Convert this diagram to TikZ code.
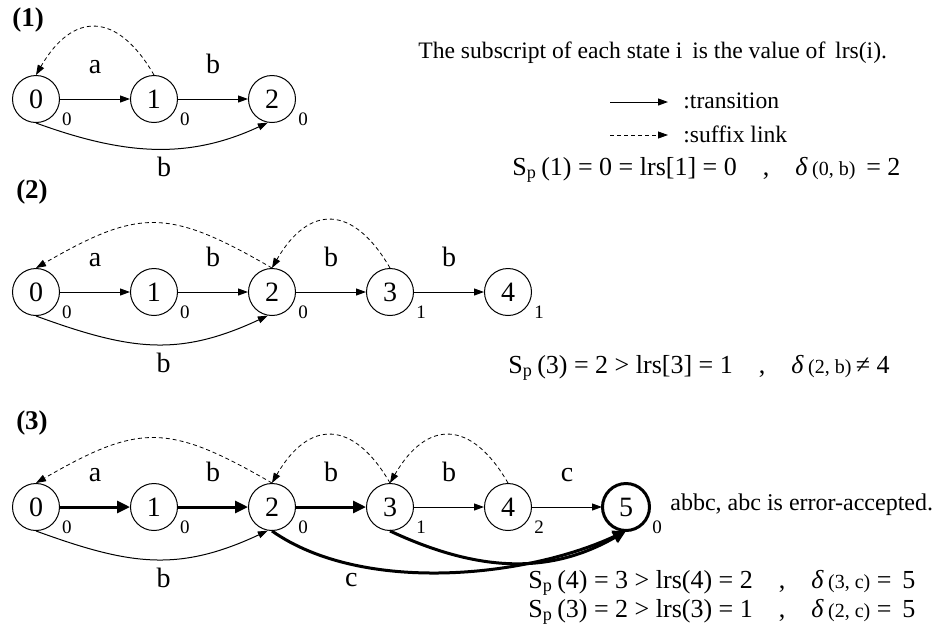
\documentclass[tikz,border=0pt]{standalone}
\usepackage{fontspec}
\setmainfont{Liberation Serif}
\usetikzlibrary{arrows.meta}

\newcommand{\Sp}{S\textsubscript{p}\,}
\newcommand{\dlt}[1]{\textit{δ}\,{\fontsize{10}{12}\selectfont(#1)}}

\tikzset{
  state/.style={circle, draw, line width=0.5pt, minimum size=23.5pt, inner sep=0pt,
    font=\fontsize{14}{16}\selectfont},
  sub/.style={inner sep=0pt, font=\fontsize{9.5}{11}\selectfont},
  trans/.style={line width=0.5pt, -{Triangle[length=5pt,width=3.5pt]}},
  hot/.style={line width=1.5pt, -{Triangle[length=6.5pt,width=6pt]}},
  link/.style={line width=0.4pt, dash pattern=on 2pt off 1.5pt,
    -{Triangle[length=5pt,width=3.5pt]}},
  elab/.style={anchor=base, yshift=13pt, inner sep=0pt, font=\fontsize{14}{16}\selectfont},
  blab/.style={below=4pt, inner sep=0pt, font=\fontsize{14}{16}\selectfont},
  txt/.style={anchor=base west, inner sep=0pt, font=\fontsize{11.8}{14}\selectfont},
  fml/.style={anchor=base west, inner sep=0pt, font=\fontsize{13}{16}\selectfont},
  tag/.style={inner sep=0pt, font=\bfseries\fontsize{13.5}{16}\selectfont}
}

\begin{document}
\begin{tikzpicture}[x=0.5pt, y=-0.5pt]
  \useasboundingbox (0,0) rectangle (934,634);

  % (1) states 0..2
  \node[tag] (t1) at (28,20) {(1)};
  \foreach \i/\s in {0/0, 1/0, 2/0}{
    \node[state] (A\i) at (36+118*\i,99) {\i};
    \node[sub] (A\i s) at ([shift={(31,20)}]A\i.center) {\s};
  }
  \foreach \i/\j/\l in {0/1/a, 1/2/b}{
    \draw[trans] (A\i) -- (A\j) node[elab, midway] {\l};
  }
  \draw[trans] (A0.south) to[out=-20, in=-155] node[blab, pos=0.55] {b} (A2.-100);
  \draw[link] (A1.north) to[out=120, in=60, looseness=1.6] (A0.north);

  % legend
  \node[txt] (note) at (418,58) {The subscript of each state i\, is the value of\, lrs(i).};
  \node[txt] (lgt) at (683,108) {:transition};
  \node[txt] (lgs) at (683,142) {:suffix link};
  \coordinate (lgt0) at (610,102);
  \coordinate (lgt1) at (668,102);
  \coordinate (lgs0) at (610,135);
  \coordinate (lgs1) at (668,135);
  \draw[trans] (lgt0) -- (lgt1);
  \draw[link] (lgs0) -- (lgs1);
  \node[fml] (f1) at (512,175) {\Sp(1) = 0 = lrs[1] = 0\quad ,\quad \dlt{0, b}\, = 2};

  % (2) states 0..4
  \node[tag] (t2) at (32,192) {(2)};
  \foreach \i/\s in {0/0, 1/0, 2/0, 3/1, 4/1}{
    \node[state] (B\i) at (36+118*\i,292) {\i};
    \node[sub] (B\i s) at ([shift={(31,20)}]B\i.center) {\s};
  }
  \foreach \i/\j/\l in {0/1/a, 1/2/b, 2/3/b, 3/4/b}{
    \draw[trans] (B\i) -- (B\j) node[elab, midway] {\l};
  }
  \draw[trans] (B0.south) to[out=-20, in=-155, looseness=1.1] node[blab, pos=0.55] {b} (B2.-100);
  \draw[link] (B2.north) to[out=150, in=30, looseness=1.3] (B0.north);
  \draw[link] (B3.north) to[out=120, in=60, looseness=1.6] (B2.north);
  \node[fml] (f2) at (508,373) {\Sp(3) = 2 > lrs[3] = 1\quad ,\quad \dlt{2, b}\,≠ 4};

  % (3) states 0..5
  \node[tag] (t3) at (32,423) {(3)};
  \foreach \i/\s in {0/0, 1/0, 2/0, 3/1, 4/2, 5/0}{
    \node[state] (C\i) at (36+118*\i,507) {\i};
    \node[sub] (C\i s) at ([shift={(31,20)}]C\i.center) {\s};
  }
  \draw[line width=1.5pt] (C5) circle (23.5);
  \foreach \i/\j/\l in {0/1/a, 1/2/b, 2/3/b}{
    \draw[hot] (C\i) -- (C\j) node[elab, midway] {\l};
  }
  \foreach \i/\j/\l in {3/4/b, 4/5/c}{
    \draw[trans] (C\i) -- (C\j) node[elab, midway] {\l};
  }
  \draw[trans] (C0.south) to[out=-20, in=-155, looseness=1.1] node[blab, pos=0.55] {b} (C2.-100);
  \draw[hot] (C2.south) to[out=-35, in=-155, looseness=0.8] node[blab, pos=0.25] {c} (C5.south);
  \draw[hot] (C3.south) to[out=-25, in=-150] (C5.south);
  \draw[link] (C2.north) to[out=150, in=30, looseness=1.3] (C0.north);
  \draw[link] (C3.north) to[out=120, in=60, looseness=1.6] (C2.north);
  \draw[link] (C4.north) to[out=120, in=60, looseness=1.6] (C3.north);
  \node[txt, font=\fontsize{12}{14}\selectfont] (acc) at (670,510) {abbc, abc is error-accepted.};
  \node[fml] (f3) at (528,588) {\Sp(4) = 3 > lrs(4) = 2\quad ,\quad \dlt{3, c} = \,5};
  \node[fml] (f4) at (528,617) {\Sp(3) = 2 > lrs(3) = 1\quad ,\quad \dlt{2, c} = \,5};
\end{tikzpicture}
\end{document}
